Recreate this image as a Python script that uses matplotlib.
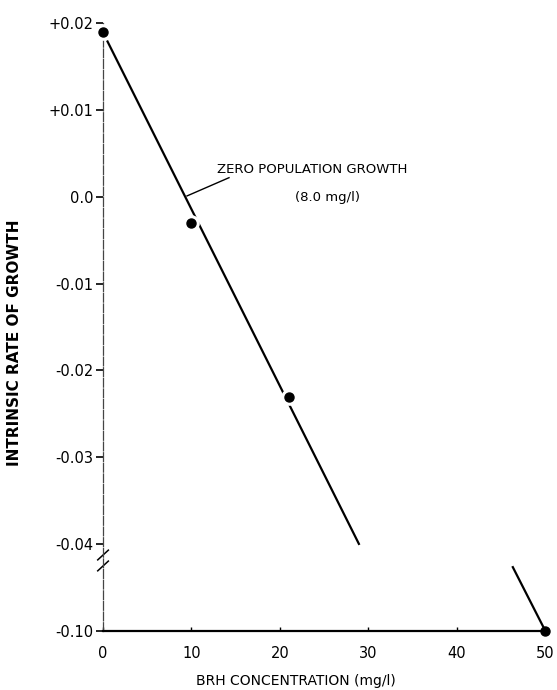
import numpy as np
import matplotlib
matplotlib.use("Agg")
from matplotlib import pyplot as plt

# measured points (BRH concentration mg/l, intrinsic rate of growth)
conc = [0, 10, 21, 50]
rate = [0.019, -0.003, -0.023, -0.100]

# fitted line, drawn in two pieces across the axis break
fit_x1 = [0.45, 29.0]
fit_y1 = [0.018, -0.0405]
fit_x2 = [46.3, 50.0]
fit_y2 = [-0.0552, -0.0995]

xticks = [0, 10, 20, 30, 40, 50]
yticks = [0.02, 0.01, 0.0, -0.01, -0.02, -0.03, -0.04, -0.10]
ytick_labels = ["+0.02", "+0.01", "0.0", "-0.01", "-0.02", "-0.03", "-0.04", "-0.10"]

BREAK = -0.04
SQUEEZE = 6.0   # -0.04 .. -0.10 squeezed into one tick step


def fwd(y):
    y = np.asarray(y, dtype=float)
    return np.where(y >= BREAK, y, BREAK + (y - BREAK) / SQUEEZE)


def inv(t):
    t = np.asarray(t, dtype=float)
    return np.where(t >= BREAK, t, BREAK + (t - BREAK) * SQUEEZE)


plt.rcParams['font.family'] = ['DejaVu Sans']

fig = plt.figure(figsize=(5.57, 6.9), dpi=100)
ax = fig.add_axes([0.185, 0.0855, 0.7935, 0.881])
ax.set_yscale('function', functions=(fwd, inv))
ax.set_xlim(0, 50)
ax.set_ylim(-0.10, 0.02)

ax.plot(fit_x1, fit_y1, color='black', lw=1.6, solid_capstyle='butt', zorder=2)
ax.plot(fit_x2, fit_y2, color='black', lw=1.6, solid_capstyle='butt', zorder=2)

# white halo around points so the line is broken there
ax.plot(conc[:3], rate[:3], 'o', ms=12, color='white', mec='none', zorder=3, clip_on=False)
ax.plot(conc, rate, 'o', ms=6.5, color='black', zorder=4, clip_on=False)

# leader line + label for zero population growth
ax.plot([9.5, 14.25], [0.0001, 0.0022], color='black', lw=1.0, zorder=2)
ax.text(12.9, 0.0032, "ZERO POPULATION GROWTH", fontsize=9.5, va='center', ha='left')
ax.text(21.7, -0.0001, "(8.0 mg/l)", fontsize=9.5, va='center', ha='left')

ax.set_xticks(xticks)
ax.set_xticklabels([str(v) for v in xticks], fontsize=10.5)
ax.set_yticks(yticks)
ax.set_yticklabels(ytick_labels, fontsize=10.5)
ax.yaxis.set_minor_locator(matplotlib.ticker.NullLocator())
ax.tick_params(axis='y', direction='out', length=5, width=1.2, pad=2)
ax.tick_params(axis='x', direction='in', length=3, width=1.0, pad=11)

for s in ['top', 'right']:
    ax.spines[s].set_visible(False)
ax.spines['bottom'].set_linewidth(1.6)
ax.spines['left'].set_linewidth(0.9)
ax.spines['left'].set_color('#444444')
ax.spines['left'].set_linestyle((0, (7, 1.5)))

# axis break marks
for yb in [0.125, 0.107]:
    ax.plot([-0.012, 0.012], [yb - 0.008, yb + 0.008], transform=ax.transAxes,
            color='black', lw=1.1, clip_on=False)

ax.set_xlabel("BRH CONCENTRATION (mg/l)", fontsize=10)
ax.xaxis.set_label_coords(0.436, -0.07)
ax.set_ylabel("INTRINSIC RATE OF GROWTH", fontsize=11, fontweight='bold')
ax.yaxis.set_label_coords(-0.183, 0.475)

fig.savefig("out.png", dpi=100)
